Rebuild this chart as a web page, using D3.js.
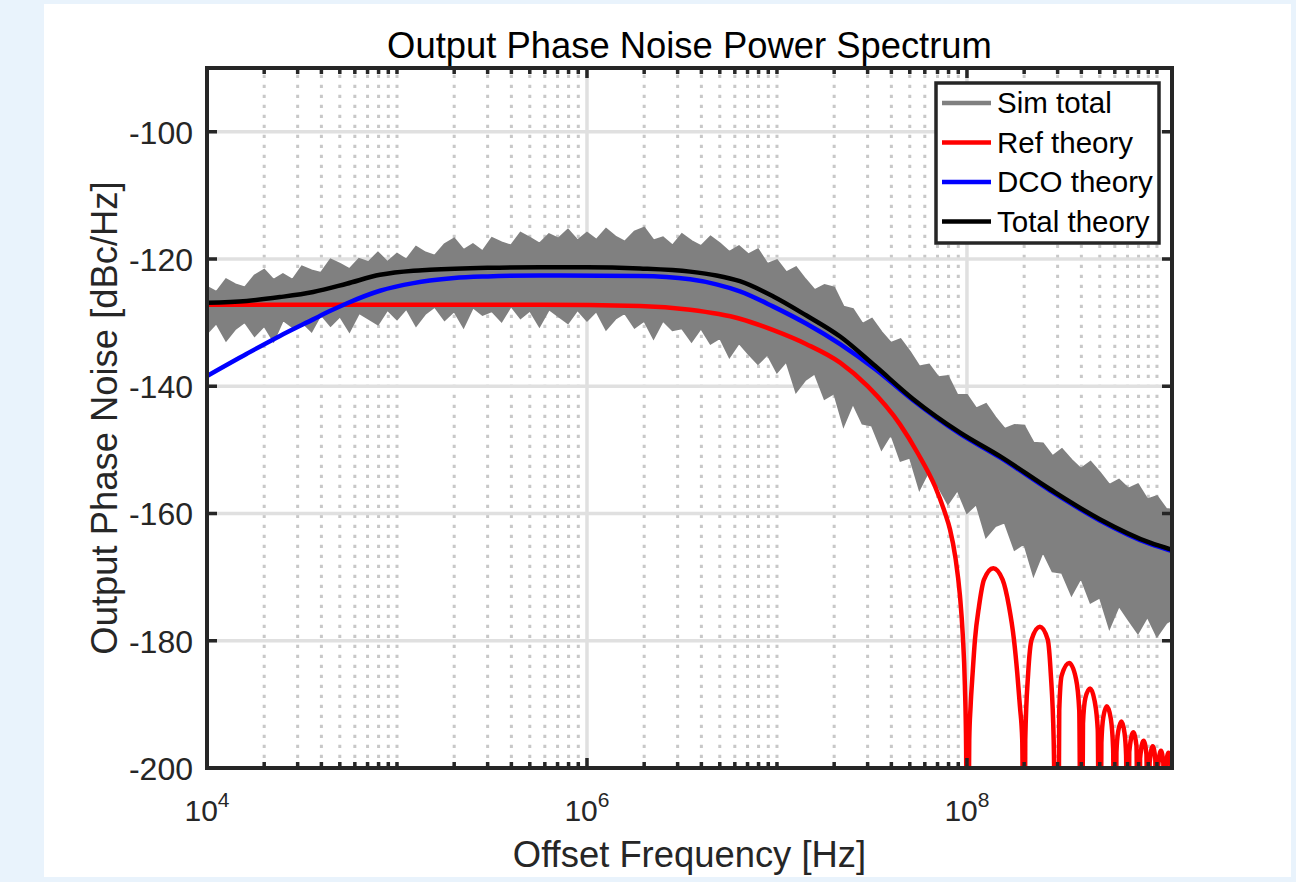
<!DOCTYPE html>
<html>
<head>
<meta charset="utf-8">
<script src="https://cdn.jsdelivr.net/npm/d3@7"></script>
<style>
  body { margin: 0; background: #e9f3fc; }
  svg { display: block; }
  text { font-family: "Liberation Sans", Arial, Helvetica, sans-serif; fill: #262626; }
</style>
</head>
<body>
<svg id="chart" width="1296" height="882"></svg>
<script>
// ---- data ----
const yTicks = [-200, -180, -160, -140, -120, -100];
const xTickExps = [4, 6, 8];

const seriesNames = ["Sim total", "Ref theory", "DCO theory", "Total theory"];
const seriesColors = ["#808080", "#ff0000", "#0000ff", "#000000"];

// simulated spectrum, drawn as its upper / lower envelope
const simFreq = [
  1e4, 1.12e4, 1.26e4, 1.41e4, 1.58e4, 1.78e4, 2e4, 2.24e4, 2.51e4, 2.82e4,
  3.16e4, 3.55e4, 3.98e4, 4.47e4, 5.01e4, 5.62e4, 6.31e4, 7.08e4, 7.94e4, 8.91e4,
  1e5, 1.12e5, 1.26e5, 1.41e5, 1.58e5, 1.78e5, 2e5, 2.24e5, 2.51e5, 2.82e5,
  3.16e5, 3.55e5, 3.98e5, 4.47e5, 5.01e5, 5.62e5, 6.31e5, 7.08e5, 7.94e5, 8.91e5,
  1e6, 1.12e6, 1.26e6, 1.41e6, 1.58e6, 1.78e6, 2e6, 2.24e6, 2.51e6, 2.82e6,
  3.16e6, 3.55e6, 3.98e6, 4.47e6, 5.01e6, 5.62e6, 6.31e6, 7.08e6, 7.94e6, 8.91e6,
  1e7, 1.12e7, 1.26e7, 1.41e7, 1.58e7, 1.78e7, 2e7, 2.24e7, 2.51e7, 2.82e7,
  3.16e7, 3.55e7, 3.98e7, 4.47e7, 5.01e7, 5.62e7, 6.31e7, 7.08e7, 7.94e7, 8.91e7,
  1e8, 1.12e8, 1.26e8, 1.41e8, 1.58e8, 1.78e8, 2e8, 2.24e8, 2.51e8, 2.82e8,
  3.16e8, 3.55e8, 3.98e8, 4.47e8, 5.01e8, 5.62e8, 6.31e8, 7.08e8, 7.94e8, 8.91e8,
  1e9, 1.12e9, 1.2e9
];
const simUpper = [
  -124.4, -125.2, -123.2, -124.0, -124.5, -122.6, -121.7, -123.3, -122.4, -123.3,
  -121.2, -121.8, -122.2, -120.1, -120.8, -121.6, -120.0, -120.5, -119.0, -120.5,
  -119.2, -120.1, -118.1, -119.0, -119.5, -117.7, -116.8, -118.6, -117.7, -118.8,
  -116.7, -117.4, -117.9, -115.9, -116.7, -117.6, -116.1, -116.8, -115.4, -117.1,
  -115.9, -117.0, -115.3, -116.5, -117.3, -115.7, -115.1, -117.1, -116.6, -117.9,
  -116.1, -117.2, -118.0, -116.5, -117.6, -118.9, -118.0, -119.3, -118.5, -120.8,
  -120.2, -122.1, -121.3, -123.2, -124.9, -124.1, -124.5, -127.5, -127.9, -130.2,
  -129.4, -131.5, -133.2, -132.6, -134.6, -136.9, -136.6, -138.6, -138.4, -141.4,
  -141.4, -143.5, -142.8, -144.9, -146.7, -146.1, -146.2, -148.9, -149.0, -151.0,
  -149.9, -151.6, -153.0, -151.9, -153.6, -155.5, -154.7, -156.1, -155.4, -157.8,
  -157.3, -159.3, -159.4
];
const simLower = [
  -131.7, -130.1, -132.8, -131.0, -129.9, -132.1, -130.5, -132.9, -129.6, -130.7,
  -129.9, -131.4, -128.7, -130.5, -129.0, -131.4, -128.5, -129.4, -130.3, -128.0,
  -129.5, -127.8, -130.5, -128.6, -127.5, -129.6, -128.2, -130.7, -127.6, -128.8,
  -128.2, -129.8, -127.4, -129.3, -128.1, -130.6, -127.9, -129.0, -130.1, -128.0,
  -129.7, -128.2, -131.1, -129.4, -128.5, -130.8, -129.7, -132.5, -129.7, -131.2,
  -130.9, -133.0, -130.9, -133.3, -132.4, -135.4, -133.2, -134.9, -136.5, -135.0,
  -137.8, -136.1, -140.9, -139.0, -138.0, -142.0, -141.1, -146.2, -142.7, -145.9,
  -146.2, -149.9, -147.5, -151.7, -151.2, -156.2, -153.2, -155.8, -158.5, -156.3,
  -159.9, -158.5, -163.7, -162.0, -161.4, -165.7, -164.7, -169.7, -166.0, -169.1,
  -169.3, -172.8, -170.1, -174.0, -173.2, -178.0, -174.5, -176.7, -178.8, -176.2,
  -179.3, -177.2, -176.7
];

// reference noise theory (nulls at multiples of 100 MHz go far below the axis)
const refFreq = [
  1e4, 1e5, 5.66e5, 1.9e6, 3.49e6, 6.38e6, 9.57e6, 1.43e7, 2.15e7, 3e7,
  4.44e7, 5.5e7, 6.8e7, 7.66e7, 8.14e7, 8.7e7, 9.19e7, 9.5e7, 9.75e7, 9.9e7, 1e8,
  1.028e8, 1.045e8, 1.071e8, 1.102e8, 1.157e8, 1.229e8, 1.375e8, 1.54e8, 1.664e8,
  1.767e8, 1.84e8, 1.9e8, 1.954e8, 2e8,
  2.027e8, 2.1e8, 2.19e8, 2.42e8, 2.66e8, 2.76e8, 2.86e8, 3e8,
  3.06e8, 3.15e8, 3.45e8, 3.75e8, 3.9e8, 4e8,
  4.08e8, 4.2e8, 4.45e8, 4.7e8, 4.88e8, 5e8,
  5.1e8, 5.22e8, 5.45e8, 5.72e8, 5.88e8, 6e8,
  6.12e8, 6.25e8, 6.5e8, 6.75e8, 6.88e8, 7e8,
  7.15e8, 7.5e8, 7.8e8, 8e8,
  8.15e8, 8.5e8, 8.8e8, 9e8,
  9.15e8, 9.5e8, 9.8e8, 1e9,
  1.015e9, 1.05e9, 1.08e9, 1.1e9,
  1.115e9, 1.15e9, 1.18e9, 1.2e9
];
const refDb = [
  -127.2, -127.2, -127.2, -127.4, -128.0, -129.4, -131.2, -133.4, -136.3, -140.0,
  -146.0, -150.5, -155.8, -159.9, -162.5, -167.0, -173.0, -179.0, -187.0, -197.0, -240,
  -195.6, -190.3, -185.1, -179.8, -174.6, -170.4, -168.6, -170.4, -174.6,
  -179.8, -185.1, -190.3, -195.6, -240,
  -195.6, -185.1, -179.8, -177.8, -179.8, -185.1, -195.6, -240,
  -191.0, -185.5, -183.5, -186.0, -191.0, -240,
  -193.0, -189.0, -187.5, -189.5, -194.0, -240,
  -196.0, -192.0, -190.3, -192.3, -197.0, -240,
  -197.5, -194.3, -192.7, -194.5, -198.0, -240,
  -197.5, -194.4, -196.5, -240,
  -198.5, -195.7, -197.8, -240,
  -199.2, -196.6, -198.6, -240,
  -199.6, -197.3, -199.2, -240,
  -199.8, -197.6, -199.4, -240
];

const dcoFreq = [
  1e4, 1.62e4, 2.42e4, 3.62e4, 4.43e4, 5.43e4, 8.14e4, 1.22e5, 1.49e5, 2e5,
  3e5, 5.66e5, 1.9e6, 3.49e6, 4.8e6, 6.38e6, 9.57e6, 1.43e7, 2.15e7, 3.28e7,
  5.2e7, 9.2e7, 1.49e8, 2.74e8, 5e8, 9.2e8, 1.2e9
];
const dcoDb = [
  -138.4, -134.9, -132.1, -129.5, -128.2, -127.0, -125.0, -123.8, -123.4, -123.0,
  -122.75, -122.6, -122.7, -123.2, -124.0, -125.1, -127.5, -130.2, -133.4, -137.3,
  -142.2, -147.5, -151.2, -156.4, -161.1, -164.8, -165.9
];

const totalFreq = [
  1e4, 1.62e4, 2.42e4, 3.62e4, 5.43e4, 8.14e4, 1.22e5, 1.49e5, 3e5, 5.66e5,
  1e6, 1.9e6, 3.49e6, 4.8e6, 6.38e6, 9.57e6, 1.43e7, 2.15e7, 3.28e7, 5.2e7,
  9.2e7, 1.49e8, 2.74e8, 5e8, 9.2e8, 1.2e9
];
const totalDb = [
  -126.9, -126.6, -126.0, -125.2, -123.9, -122.5, -121.85, -121.7, -121.4, -121.3,
  -121.3, -121.5, -122.0, -122.6, -123.5, -125.9, -128.9, -132.2, -136.8, -142.0,
  -147.3, -151.0, -156.2, -160.9, -164.6, -165.7
];

// ---- layout ----
const plot = { left: 207, top: 68, right: 1172, bottom: 768 };
const axisColor = "#262626";

const svg = d3.select("#chart");

svg.append("rect")
  .attr("x", 44).attr("y", 4)
  .attr("width", 1247).attr("height", 873)
  .attr("fill", "#ffffff");

const x = d3.scaleLog().domain([1e4, 1.2e9]).range([plot.left, plot.right]);
const y = d3.scaleLinear().domain([-200, -90]).range([plot.bottom, plot.top]);

const majorX = xTickExps.map((e) => Math.pow(10, e));
const minorX = x.ticks().filter((t) => !majorX.some((m) => Math.abs(t / m - 1) < 1e-6));

svg.append("clipPath").attr("id", "plotclip")
  .append("rect")
  .attr("x", plot.left).attr("y", plot.top)
  .attr("width", plot.right - plot.left).attr("height", plot.bottom - plot.top);

// grid
const grid = svg.append("g");
grid.selectAll(".minor")
  .data(minorX)
  .enter()
  .append("line")
  .attr("x1", (d) => x(d)).attr("x2", (d) => x(d))
  .attr("y1", plot.bottom).attr("y2", plot.top)
  .attr("stroke", "#c8c8c8")
  .attr("stroke-width", 3)
  .attr("stroke-dasharray", "3.3 6.7");
grid.selectAll(".majx")
  .data(majorX)
  .enter()
  .append("line")
  .attr("x1", (d) => x(d)).attr("x2", (d) => x(d))
  .attr("y1", plot.bottom).attr("y2", plot.top)
  .attr("stroke", "#e0e0e0")
  .attr("stroke-width", 3.5);
grid.selectAll(".majy")
  .data(yTicks)
  .enter()
  .append("line")
  .attr("x1", plot.left).attr("x2", plot.right)
  .attr("y1", (d) => y(d)).attr("y2", (d) => y(d))
  .attr("stroke", "#e0e0e0")
  .attr("stroke-width", 3.5);

// data
const dataG = svg.append("g").attr("clip-path", "url(#plotclip)");

const simRows = simFreq.map((f, i) => ({ f: f, hi: simUpper[i], lo: simLower[i] }));
const band = d3.area()
  .x((d) => x(d.f))
  .y0((d) => y(d.lo))
  .y1((d) => y(d.hi));

dataG.append("path")
  .datum(simRows)
  .attr("d", band)
  .attr("fill", seriesColors[0])
  .attr("stroke", seriesColors[0])
  .attr("stroke-width", 2)
  .attr("stroke-linejoin", "miter");

const line = d3.line()
  .x((d) => x(d[0]))
  .y((d) => y(d[1]))
  .curve(d3.curveMonotoneX);

const curves = [
  { f: refFreq, v: refDb, color: seriesColors[1] },
  { f: dcoFreq, v: dcoDb, color: seriesColors[2] },
  { f: totalFreq, v: totalDb, color: seriesColors[3] }
];

dataG.selectAll(".curve")
  .data(curves)
  .enter()
  .append("path")
  .attr("class", "curve")
  .attr("d", (c) => line(c.f.map((f, i) => [f, c.v[i]])))
  .attr("fill", "none")
  .attr("stroke", (c) => c.color)
  .attr("stroke-width", 4.5)
  .attr("stroke-linejoin", "round");

// axes box + ticks
const axes = svg.append("g")
  .attr("stroke", axisColor);

axes.selectAll(".ytk")
  .data(yTicks)
  .enter()
  .append("path")
  .attr("d", (d) => `M${plot.left},${y(d)}h10M${plot.right},${y(d)}h-10`)
  .attr("stroke-width", 3.5);

axes.selectAll(".xmaj")
  .data(majorX)
  .enter()
  .append("path")
  .attr("d", (d) => `M${x(d)},${plot.bottom}v-10M${x(d)},${plot.top}v10`)
  .attr("stroke-width", 3.5);

axes.selectAll(".xmin")
  .data(minorX)
  .enter()
  .append("path")
  .attr("d", (d) => `M${x(d)},${plot.bottom}v-6M${x(d)},${plot.top}v6`)
  .attr("stroke-width", 3.5);

axes.append("rect")
  .attr("x", plot.left).attr("y", plot.top)
  .attr("width", plot.right - plot.left).attr("height", plot.bottom - plot.top)
  .attr("fill", "none")
  .attr("stroke-width", 4);

// tick labels
svg.selectAll(".ylab")
  .data(yTicks)
  .enter()
  .append("text")
  .attr("x", plot.left - 14)
  .attr("y", (d) => y(d) + 12)
  .attr("text-anchor", "end")
  .attr("font-size", 32)
  .text((d) => d);

const xl = svg.selectAll(".xlab")
  .data(xTickExps)
  .enter()
  .append("text")
  .attr("x", (d) => x(Math.pow(10, d)))
  .attr("y", 821)
  .attr("text-anchor", "middle")
  .attr("font-size", 30);
xl.append("tspan").text("10");
xl.append("tspan")
  .attr("font-size", 21)
  .attr("dy", -14)
  .text((d) => d);

// titles
svg.append("text")
  .attr("x", (plot.left + plot.right) / 2)
  .attr("y", 58)
  .attr("text-anchor", "middle")
  .attr("font-size", 36.4)
  .style("fill", "#000")
  .text("Output Phase Noise Power Spectrum");

svg.append("text")
  .attr("x", (plot.left + plot.right) / 2)
  .attr("y", 867)
  .attr("text-anchor", "middle")
  .attr("font-size", 36.4)
  .text("Offset Frequency [Hz]");

svg.append("text")
  .attr("transform", `translate(117,${(plot.top + plot.bottom) / 2}) rotate(-90)`)
  .attr("text-anchor", "middle")
  .attr("font-size", 36.4)
  .text("Output Phase Noise [dBc/Hz]");

// legend
const lg = svg.append("g").attr("transform", "translate(936,83)");
lg.append("rect")
  .attr("width", 223).attr("height", 160)
  .attr("fill", "#fff")
  .attr("stroke", axisColor)
  .attr("stroke-width", 3.5);

const item = lg.selectAll(".item")
  .data(seriesNames)
  .enter()
  .append("g")
  .attr("transform", (d, i) => `translate(0,${20 + i * 39.5})`);

item.append("line")
  .attr("x1", 6).attr("x2", 55)
  .attr("stroke", (d, i) => seriesColors[i])
  .attr("stroke-width", 4.5);

item.append("text")
  .attr("x", 61)
  .attr("y", 10)
  .attr("font-size", 29.5)
  .style("fill", "#000")
  .text((d) => d);
</script>
</body>
</html>
